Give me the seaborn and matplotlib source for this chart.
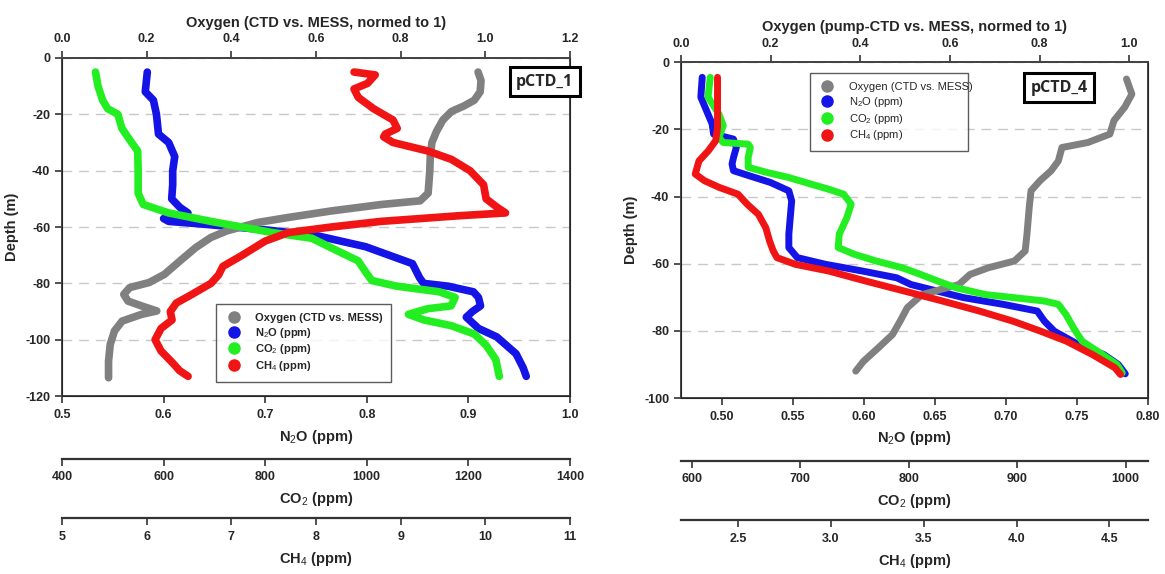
import numpy as np
import pandas as pd
import matplotlib
matplotlib.use("Agg")
import matplotlib.pyplot as plt
from matplotlib.lines import Line2D
import seaborn as sns

# ---- pCTD_1 profiles ----
o2_depth_1 = [-5, -8, -12, -15, -17, -19, -22, -26, -30, -35, -40, -48, -50.7, -52, -54.3, -56.6,
              -58.4, -61.4, -63.7, -67.3, -72, -76.8, -79.7, -81.5, -83.9, -86.3, -88, -89.8,
              -91, -93.4, -96.9, -101.7, -107.6, -113.5]
o2_1 = [0.983, 0.99, 0.988, 0.974, 0.95, 0.92, 0.900, 0.885, 0.874, 0.870, 0.869, 0.865, 0.846,
        0.755, 0.636, 0.535, 0.462, 0.389, 0.352, 0.316, 0.279, 0.242, 0.206, 0.160, 0.146,
        0.156, 0.188, 0.224, 0.188, 0.142, 0.124, 0.114, 0.110, 0.110]

n2o_depth_1 = [-5, -12, -15, -20, -27, -30, -35, -40, -45, -50, -53, -55, -56, -57, -58, -59, -61,
               -63, -67, -73, -78, -80, -81, -83, -85, -88, -90, -92, -96, -99, -105, -110, -113]
n2o_1 = [0.584, 0.582, 0.590, 0.593, 0.595, 0.605, 0.611, 0.609, 0.609, 0.608, 0.616, 0.624,
         0.612, 0.600, 0.605, 0.640, 0.700, 0.750, 0.799, 0.845, 0.852, 0.856, 0.880, 0.905,
         0.910, 0.912, 0.904, 0.898, 0.910, 0.928, 0.947, 0.954, 0.957]

co2_depth_1 = [-5, -10, -15, -18, -20, -25, -30, -33, -40, -48, -52, -55, -58, -60, -62, -64, -68,
               -72, -76, -79, -81, -83, -85, -88, -89, -91, -93, -95, -98, -102, -107, -113]
co2_1 = [466, 471, 480, 490, 510, 518, 537, 549, 550, 550, 560, 610, 693, 754, 815, 892, 937,
         983, 998, 1010, 1059, 1143, 1174, 1166, 1120, 1082, 1113, 1166, 1212, 1235, 1254, 1261]

ch4_depth_1 = [-5, -6, -9, -11, -14, -18, -22, -25, -27, -28, -30, -33, -36, -40, -45, -50, -53,
               -55, -56, -58, -60, -62, -65, -70, -74, -77, -80, -84, -87, -90, -93, -96, -100,
               -104, -108, -111, -113]
ch4_1 = [8.45, 8.70, 8.61, 8.45, 8.50, 8.68, 8.91, 8.96, 8.82, 8.80, 8.91, 9.32, 9.60, 9.82,
         9.98, 10.01, 10.14, 10.24, 9.69, 8.77, 8.18, 7.67, 7.40, 7.13, 6.90, 6.85, 6.76, 6.53,
         6.35, 6.28, 6.30, 6.17, 6.10, 6.17, 6.30, 6.39, 6.49]

# ---- pCTD_4 profiles ----
o2_depth_4 = [-5, -9.5, -13.4, -17.4, -21.4, -23.9, -25.4, -29.4, -32.3, -35.3, -38.3, -43.3,
              -51.2, -56.2, -59.2, -61.2, -63.2, -66.2, -69.2, -73.1, -77.1, -81.1, -85.1,
              -89.1, -92]
o2_4 = [0.994, 1.006, 0.990, 0.966, 0.957, 0.908, 0.850, 0.842, 0.826, 0.801, 0.781, 0.777,
        0.772, 0.768, 0.744, 0.686, 0.645, 0.620, 0.538, 0.505, 0.489, 0.472, 0.440, 0.407, 0.390]

n2o_depth_4 = [-4.5, -10.4, -14.4, -18.4, -21.4, -22.9, -25.4, -28.4, -30.3, -32.3, -33.8, -35.8,
               -38.3, -41.3, -51.2, -55.2, -58.2, -60.2, -62.2, -64.2, -66.2, -68.2, -70.1,
               -72.1, -74.1, -77.1, -80.1, -84.1, -87.1, -90, -92.8]
n2o_4 = [0.486, 0.485, 0.489, 0.493, 0.494, 0.508, 0.510, 0.508, 0.507, 0.508, 0.519, 0.534,
         0.547, 0.549, 0.547, 0.547, 0.553, 0.573, 0.599, 0.623, 0.633, 0.652, 0.670, 0.698,
         0.722, 0.727, 0.734, 0.751, 0.769, 0.779, 0.784]

co2_depth_4 = [-4.5, -10.4, -15.4, -18.9, -22.4, -23.9, -24.4, -25.4, -28.4, -31.3, -32.8, -34.3,
               -36.3, -37.8, -39.3, -42.3, -46.3, -51.2, -55.2, -57.2, -59.2, -61.2, -63.2,
               -65.2, -67.2, -69.2, -71.1, -72.1, -75.1, -79.1, -83.1, -87.1, -90, -92.5]
co2_4 = [617, 615, 625, 629, 625, 629, 652, 654, 652, 652, 669, 689, 710, 726, 740, 747, 743,
         736, 735, 750, 770, 794, 811, 827, 844, 871, 925, 938, 945, 952, 960, 979, 992, 997]

ch4_depth_4 = [-4.5, -11.4, -19.4, -23.4, -26.4, -29.4, -33.3, -35.3, -37.3, -39.3, -42.3, -45.3,
               -49.3, -53.2, -56.2, -58.2, -60.2, -62.2, -65.2, -68.2, -71.1, -74.1, -77.1,
               -80.1, -83.1, -87.1, -91, -93]
ch4_4 = [2.39, 2.39, 2.39, 2.38, 2.34, 2.29, 2.27, 2.32, 2.40, 2.50, 2.55, 2.61, 2.65, 2.67,
         2.69, 2.71, 2.81, 2.99, 3.19, 3.40, 3.60, 3.80, 3.98, 4.13, 4.27, 4.41, 4.53, 4.56]

C_O2, C_N2O, C_CO2, C_CH4 = "#808080", "#1414e6", "#22ee22", "#f01414"
legend_labels = ["Oxygen (CTD vs. MESS)", "N$_2$O (ppm)", "CO$_2$ (ppm)", "CH$_4$ (ppm)"]

sns.set_style("ticks")
plt.rcParams["font.family"] = ["Liberation Sans", "DejaVu Sans"]
plt.rcParams["axes.unicode_minus"] = False
plt.rcParams["mathtext.fontset"] = "custom"
plt.rcParams["mathtext.rm"] = "Liberation Sans"
plt.rcParams["mathtext.bf"] = "Liberation Sans:bold"

fig = plt.figure(figsize=(11.65, 5.74), dpi=100)


def profile(ax, depth, vals, color, lw):
    df = pd.DataFrame({"v": vals, "d": depth})
    sns.lineplot(data=df, x="v", y="d", sort=False, estimator=None, color=color,
                 linewidth=lw, ax=ax, solid_capstyle="round", solid_joinstyle="round")
    ax.set_xlabel("")
    ax.set_ylabel("")


def extra_axis(ax, offset):
    tw = ax.twiny()
    tw.xaxis.set_ticks_position("bottom")
    tw.xaxis.set_label_position("bottom")
    tw.spines["bottom"].set_position(("outward", offset))
    for s in ["top", "left", "right"]:
        tw.spines[s].set_visible(False)
    tw.spines["bottom"].set_linewidth(1.6)
    tw.spines["bottom"].set_color("#333333")
    return tw


def build(rect, data, lims, ticks, fmts, titles, tag, tag_xy, leg_box, weight, lw):
    ax = fig.add_axes(rect)
    ax_o2 = ax.twiny()
    ax_co2 = extra_axis(ax, 45)
    ax_ch4 = extra_axis(ax, 88)
    axes = [ax_o2, ax, ax_co2, ax_ch4]
    colors = [C_O2, C_N2O, C_CO2, C_CH4]
    for a, (d, v), c, lim, tk, fm, ttl in zip(axes, data, colors, lims, ticks, fmts, titles):
        profile(a, d, v, c, lw)
        a.set_xlim(*lim)
        a.set_xticks(tk)
        a.set_xticklabels([fm.format(t) for t in tk], fontsize=9, fontweight="bold")
        a.set_xlabel(ttl, fontsize=10.5, fontweight="bold", labelpad=5)
        a.tick_params(axis="x", direction="out", length=5, width=1.2, color="#333333", pad=4)
    ax.set_ylim(ymin_of[tag], 0)
    yt = list(range(0, ymin_of[tag] - 1, -20))
    ax.set_yticks(yt)
    ax.set_yticklabels([str(t) for t in yt], fontsize=9, fontweight="bold")
    ax.set_ylabel("Depth (m)", fontsize=10.5, fontweight="bold")
    ax.tick_params(axis="y", direction="out", length=5, width=1.2, color="#333333")
    ax.yaxis.grid(True, linestyle=(0, (7, 5)), color="#c8c8c8", linewidth=1.0)
    for s in ax.spines.values():
        s.set_linewidth(1.4)
        s.set_color("#444444")
    ax_o2.spines["top"].set_linewidth(1.4)
    ax_o2.spines["top"].set_color("#444444")
    ax_o2.xaxis.set_label_position("top")

    handles = [Line2D([], [], ls="", marker="o", ms=8, color=c, mec=c) for c in colors]
    leg = ax_ch4.legend(handles, legend_labels, loc="lower left", bbox_to_anchor=leg_box,
                        mode="expand", frameon=True, fancybox=False, handletextpad=1.2,
                        borderpad=0.8, labelspacing=0.25, handlelength=1.5,
                        prop={"size": 8, "weight": weight})
    leg.get_frame().set_edgecolor("#333333")
    leg.get_frame().set_linewidth(1.0)
    ax_ch4.text(tag_xy[0], tag_xy[1], tag, transform=ax_ch4.transAxes, ha="center",
                va="center", fontsize=11.5, fontweight="bold", family=["Open Sans", "DejaVu Sans"],
                bbox=dict(boxstyle="square,pad=0.4", fc="white", ec="black", lw=2.2),
                clip_on=False, zorder=10)
    return ax


ymin_of = {"pCTD_1": -120, "pCTD_4": -100}

build([0.0532, 0.310, 0.436, 0.589],
      [(o2_depth_1, o2_1), (n2o_depth_1, n2o_1), (co2_depth_1, co2_1), (ch4_depth_1, ch4_1)],
      [(0, 1.2), (0.5, 1.0), (400, 1400), (5, 11)],
      [np.arange(0, 1.21, 0.2), np.arange(0.5, 1.01, 0.1), np.arange(400, 1401, 200),
       np.arange(5, 11.1, 1)],
      ["{:.1f}", "{:.1f}", "{:.0f}", "{:.0f}"],
      ["Oxygen (CTD vs. MESS, normed to 1)", "N$_2$O (ppm)", "CO$_2$ (ppm)", "CH$_4$ (ppm)"],
      "pCTD_1", (0.95, 0.93), (0.293, 0.025, 0.366, 0.252), "bold", 5.5)

build([0.5845, 0.3066, 0.4009, 0.585],
      [(o2_depth_4, o2_4), (n2o_depth_4, n2o_4), (co2_depth_4, co2_4), (ch4_depth_4, ch4_4)],
      [(0, 1.042), (0.471, 0.80), (590, 1020.7), (2.193, 4.708)],
      [np.arange(0, 1.01, 0.2), np.arange(0.50, 0.801, 0.05), np.arange(600, 1001, 100),
       np.arange(2.5, 4.51, 0.5)],
      ["{:.1f}", "{:.2f}", "{:.0f}", "{:.1f}"],
      ["Oxygen (pump-CTD vs. MESS, normed to 1)", "N$_2$O (ppm)", "CO$_2$ (ppm)", "CH$_4$ (ppm)"],
      "pCTD_4", (0.81, 0.924), (0.265, 0.718, 0.362, 0.252), "normal", 5.0)

fig.savefig("out.png", dpi=100)
